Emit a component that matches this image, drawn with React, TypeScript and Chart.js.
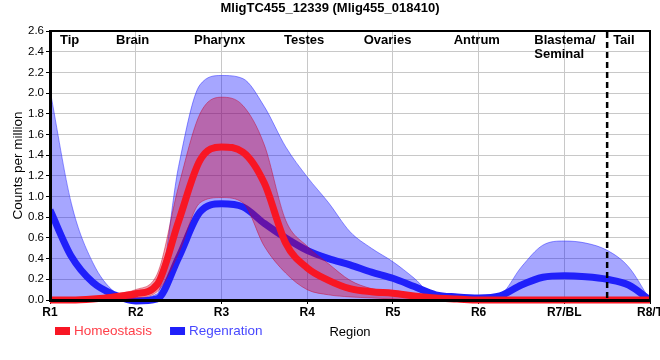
import React, { useEffect, useRef } from "react";
import { Chart, registerables } from "chart.js";

Chart.register(...registerables);

const FONT = '"Liberation Sans", Arial, sans-serif';

const chartTitle = "MligTC455_12339 (Mlig455_018410)";
const yAxisTitle = "Counts per million";
const xAxisTitle = "Region";
const regionTicks = ["R1", "R2", "R3", "R4", "R5", "R6", "R7/BL", "R8/T"];

// sample positions along the body axis (R1 = 1 ... R8/T = 8)
const samplePositions = [
  1, 1.25, 1.5, 1.75, 2, 2.25, 2.5, 2.75, 3, 3.25, 3.5, 3.75, 4, 4.25, 4.5,
  4.75, 5, 5.25, 5.5, 5.75, 6, 6.25, 6.5, 6.75, 7, 7.25, 7.5, 7.75, 8,
];

const homeostasisMean = [
  0.0, 0.0, 0.01, 0.03, 0.06, 0.15, 0.76, 1.35, 1.48, 1.43, 1.13, 0.55, 0.31,
  0.19, 0.11, 0.08, 0.065, 0.04, 0.02, 0.01, 0.0, 0.0, 0.0, 0.0, 0.0, 0.0,
  0.0, 0.0, 0.0,
];
const homeostasisUpper = [
  0.02, 0.02, 0.03, 0.06, 0.1, 0.25, 1.1, 1.8, 1.96, 1.88, 1.5, 0.77, 0.52,
  0.35, 0.19, 0.11, 0.08, 0.05, 0.03, 0.02, 0.01, 0.01, 0.01, 0.01, 0.01,
  0.01, 0.01, 0.01, 0.01,
];
const homeostasisLower = [
  -0.02, -0.02, -0.01, 0.0, 0.02, 0.08, 0.45, 0.94, 0.99, 0.94, 0.52, 0.26,
  0.1, 0.05, 0.03, 0.02, 0.01, 0.0, 0.0, -0.01, -0.01, -0.01, -0.01, -0.01,
  -0.01, -0.01, -0.01, -0.01, -0.01,
];

const regenerationMean = [
  0.87, 0.42, 0.17, 0.05, -0.01, 0.01, 0.41, 0.85, 0.93, 0.9, 0.74, 0.6, 0.48,
  0.4, 0.34, 0.27, 0.21, 0.13, 0.05, 0.03, 0.02, 0.04, 0.145, 0.22, 0.235,
  0.225, 0.2, 0.145, 0.0,
];
const regenerationUpper = [
  2.03, 0.93, 0.36, 0.08, 0.02, 0.06, 1.29, 2.08, 2.17, 2.14, 1.87, 1.48,
  1.19, 0.94, 0.66, 0.5, 0.37, 0.21, 0.03, 0.02, 0.02, 0.05, 0.32, 0.53,
  0.57, 0.55, 0.48, 0.32, 0.0,
];
const regenerationLower = [
  0, 0, 0, 0, -0.02, -0.02, 0, 0, 0, 0, 0, 0, 0, 0, 0, 0, 0, 0, 0, 0, 0, 0, 0,
  0, 0, 0, 0, 0, 0,
];

const tissueLabels = [
  "Tip",
  "Brain",
  "Pharynx",
  "Testes",
  "Ovaries",
  "Antrum",
  "Blastema/\nSeminal",
  "Tail",
];
// left edge of each tissue label, in region units
const tissueLabelAt = [1.117, 1.77, 2.68, 3.73, 4.66, 5.71, 6.65, 7.57];
const tailBoundary = 7.5;

const RED = "rgb(248,22,36)";
const BLUE = "rgb(32,32,250)";
const RED_TEXT = "rgb(255,62,72)";
const BLUE_TEXT = "rgb(72,72,255)";

const toXY = (ys: number[]) =>
  samplePositions.map((x, i) => ({ x, y: ys[i] }));

const overlayPlugin = {
  id: "overlay",
  afterDatasetsDraw(chart: any) {
    const { ctx, chartArea, scales } = chart;
    const { left, right, top, bottom } = chartArea;
    const x = scales.x;
    ctx.save();
    // tail boundary
    const xd = x.getPixelForValue(tailBoundary);
    ctx.strokeStyle = "#000";
    ctx.lineWidth = 2.5;
    ctx.setLineDash([6, 4]);
    ctx.beginPath();
    ctx.moveTo(xd, top + 1);
    ctx.lineTo(xd, bottom);
    ctx.stroke();
    ctx.setLineDash([]);
    // top & right frame
    ctx.lineWidth = 2;
    ctx.beginPath();
    ctx.moveTo(left, top);
    ctx.lineTo(right, top);
    ctx.lineTo(right, bottom);
    ctx.stroke();
    // tissue labels
    ctx.fillStyle = "#000";
    ctx.font = `bold 13px ${FONT}`;
    ctx.textAlign = "left";
    ctx.textBaseline = "alphabetic";
    tissueLabels.forEach((t, i) => {
      const px = x.getPixelForValue(tissueLabelAt[i]);
      t.split("\n").forEach((line, j) => {
        ctx.fillText(line, px, top + 13.3 + j * 14);
      });
    });
    ctx.restore();
  },
  afterDraw(chart: any) {
    const { ctx, chartArea } = chart;
    const items = [
      { text: chart.data.datasets[0].label, box: RED, color: RED_TEXT },
      { text: chart.data.datasets[3].label, box: BLUE, color: BLUE_TEXT },
    ];
    ctx.save();
    ctx.font = `13.5px ${FONT}`;
    ctx.textBaseline = "middle";
    ctx.textAlign = "left";
    let cx = chartArea.left + 5;
    const cy = chartArea.bottom + 31;
    items.forEach((it) => {
      ctx.fillStyle = it.box;
      ctx.fillRect(cx, cy - 4, 15, 8);
      ctx.fillStyle = it.color;
      ctx.fillText(it.text, cx + 19, cy);
      cx += 19 + ctx.measureText(it.text).width + 18;
    });
    ctx.restore();
  },
};

export default function App() {
  const canvasRef = useRef<HTMLCanvasElement | null>(null);

  useEffect(() => {
    if (!canvasRef.current) return;
    const line = {
      pointRadius: 0,
      pointHoverRadius: 0,
      cubicInterpolationMode: "monotone" as const,
    };
    const meanClip = { left: 0, top: 0, right: 0, bottom: 5 };
    const chart = new Chart(canvasRef.current, {
      type: "line",
      data: {
        datasets: [
          {
            ...line,
            label: "Homeostasis",
            data: toXY(homeostasisMean),
            borderColor: RED,
            backgroundColor: RED,
            borderWidth: 7,
            fill: false,
            order: 0,
            clip: meanClip,
          },
          {
            ...line,
            label: "_homeostasisUpper",
            data: toXY(homeostasisUpper),
            borderColor: "rgba(200,0,40,0.45)",
            backgroundColor: "rgba(210,0,40,0.38)",
            borderWidth: 1,
            fill: "+1",
            order: 1,
          },
          {
            ...line,
            label: "_homeostasisLower",
            data: toXY(homeostasisLower),
            borderColor: "rgba(200,0,40,0.45)",
            borderWidth: 1,
            fill: false,
            order: 1,
          },
          {
            ...line,
            label: "Regenration",
            data: toXY(regenerationMean),
            borderColor: BLUE,
            backgroundColor: BLUE,
            borderWidth: 7,
            fill: false,
            order: 2,
            clip: meanClip,
          },
          {
            ...line,
            label: "_regenerationUpper",
            data: toXY(regenerationUpper),
            borderColor: "rgba(40,40,255,0.5)",
            backgroundColor: "rgba(0,0,255,0.35)",
            borderWidth: 1,
            fill: "+1",
            order: 3,
          },
          {
            ...line,
            label: "_regenerationLower",
            data: toXY(regenerationLower),
            borderColor: "rgba(0,0,0,0)",
            borderWidth: 0,
            fill: false,
            order: 3,
          },
        ],
      },
      options: {
        animation: false,
        responsive: false,
        events: [],
        layout: { padding: { left: 10, right: 30, top: 0, bottom: 16 } },
        plugins: {
          legend: { display: false },
          tooltip: { enabled: false },
          title: {
            display: true,
            text: chartTitle,
            color: "#000",
            font: { size: 13, weight: "bold", family: FONT },
            padding: { top: 1, bottom: 14.4 },
          },
        },
        scales: {
          x: {
            type: "linear",
            min: 1,
            max: 8,
            ticks: {
              stepSize: 1,
              autoSkip: false,
              maxRotation: 0,
              color: "#000",
              padding: 1,
              font: { size: 12, weight: "bold", family: FONT },
              callback: (v: any) => regionTicks[Math.round(Number(v)) - 1] ?? "",
            },
            grid: { color: "#c8c8c8", tickLength: 4, tickColor: "#000" },
            border: { display: true, color: "#000", width: 3, z: 1 },
            title: {
              display: true,
              text: xAxisTitle,
              color: "#000",
              font: { size: 13, family: FONT },
              padding: { top: 0, bottom: 4 },
            },
            afterFit: (s: any) => {
              s.height = 44;
            },
          },
          y: {
            min: 0,
            max: 2.6,
            ticks: {
              stepSize: 0.2,
              color: "#000",
              padding: 2,
              font: { size: 11.5, family: FONT },
              callback: (v: any) => Number(v).toFixed(1),
            },
            grid: { color: "#c8c8c8", tickLength: 4, tickColor: "#000" },
            border: { display: true, color: "#000", width: 3, z: 1 },
            title: {
              display: true,
              text: yAxisTitle,
              color: "#000",
              font: { size: 13.5, family: FONT },
              padding: { top: 0, bottom: 0 },
            },
            afterFit: (s: any) => {
              s.width = 40;
            },
          },
        },
      },
      plugins: [overlayPlugin],
    });
    return () => chart.destroy();
  }, []);

  return (
    <div
      style={{
        position: "fixed",
        left: 0,
        top: 0,
        width: 660,
        height: 360,
        overflow: "hidden",
        background: "#fff",
      }}
    >
      <canvas ref={canvasRef} width={680} height={360} />
    </div>
  );
}
